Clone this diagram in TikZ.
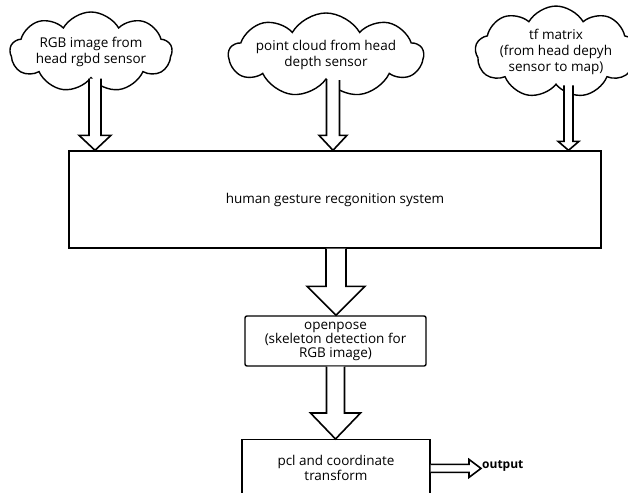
\documentclass[tikz,border=0pt]{standalone}
\usepackage{fontspec}
\setmainfont{Open Sans}
\usetikzlibrary{shapes.symbols,calc}
\tikzset{>=stealth,
  cloudbox/.style={draw, line width=1.4pt, cloud, cloud puffs=9, cloud puff arc=120,
    cloud ignores aspect, inner sep=0pt, align=center, font=\fontsize{13.5}{16}\selectfont},
  blockbox/.style={draw, line width=1.4pt, inner sep=1pt, align=center,
    font=\fontsize{13.5}{15}\selectfont},
  fatarrow/.style={draw, fill=white, line width=1.6pt, line join=miter}}
% hollow block arrows: start, end, shaft half width, head half width, head length
\newcommand{\fatdown}[5]{%
  \draw[fatarrow] let \p1=#1, \p2=#2 in
    (\x1-#3,\y1) -- (\x1-#3,\y2+#5) -- (\x1-#4,\y2+#5) -- (\x1,\y2)
    -- (\x1+#4,\y2+#5) -- (\x1+#3,\y2+#5) -- (\x1+#3,\y1);}
\newcommand{\fatright}[5]{%
  \draw[fatarrow] let \p1=#1, \p2=#2 in
    (\x1,\y1+#3) -- (\x2-#5,\y1+#3) -- (\x2-#5,\y1+#4) -- (\x2,\y1)
    -- (\x2-#5,\y1-#4) -- (\x2-#5,\y1-#3) -- (\x1,\y1-#3);}
\begin{document}
\begin{tikzpicture}[x=1pt,y=-1pt]
\useasboundingbox (0,0) rectangle (628,492);
\clip (0,0) rectangle (628,492);
% inputs
\node[cloudbox, minimum width=162, minimum height=80] (rgbcloud) at (91,52) {RGB image from\\head rgbd sensor};
\node[cloudbox, minimum width=163, minimum height=84] (pointcloud) at (326,55) {point cloud from head\\depth sensor};
\node[cloudbox, minimum width=146, minimum height=80] (tfcloud) at (556,52) {tf matrix\\(from head depyh\\sensor to map)};
% processing
\node[blockbox, minimum width=532, minimum height=97] (gesture) at (335,199.5) {human gesture recgonition system};
\node[blockbox, rounded corners=2pt, minimum width=181, minimum height=50,
  font=\fontsize{13.5}{13.5}\selectfont] (openpose) at (335.5,341) {openpose\\(skeleton detection for\\RGB image)};
\node[blockbox, anchor=north, minimum width=188, inner ysep=16pt] (pcl) at (336,439) {pcl and coordinate\\transform};
\node[anchor=west, inner sep=1pt, font=\bfseries\fontsize{12}{12}\selectfont] (outlabel) at (481,466) {output};
% arrows
\fatdown{($(rgbcloud.south)+(4,0)$)}{(gesture.north)}{6pt}{16pt}{15pt}
\fatdown{($(pointcloud.south)+(7,0)$)}{(gesture.north)}{6.5pt}{14pt}{15pt}
\fatdown{($(tfcloud.south)+(12.5,0)$)}{(gesture.north)}{4.5pt}{10.5pt}{9pt}
\fatdown{($(gesture.south)+(1,0)$)}{(openpose.north)}{10pt}{29pt}{29pt}
\fatdown{(openpose.south)}{(pcl.north)}{9pt}{25pt}{26pt}
\fatright{(pcl.east)}{(outlabel.west)}{4pt}{9pt}{12pt}
\end{tikzpicture}
\end{document}
